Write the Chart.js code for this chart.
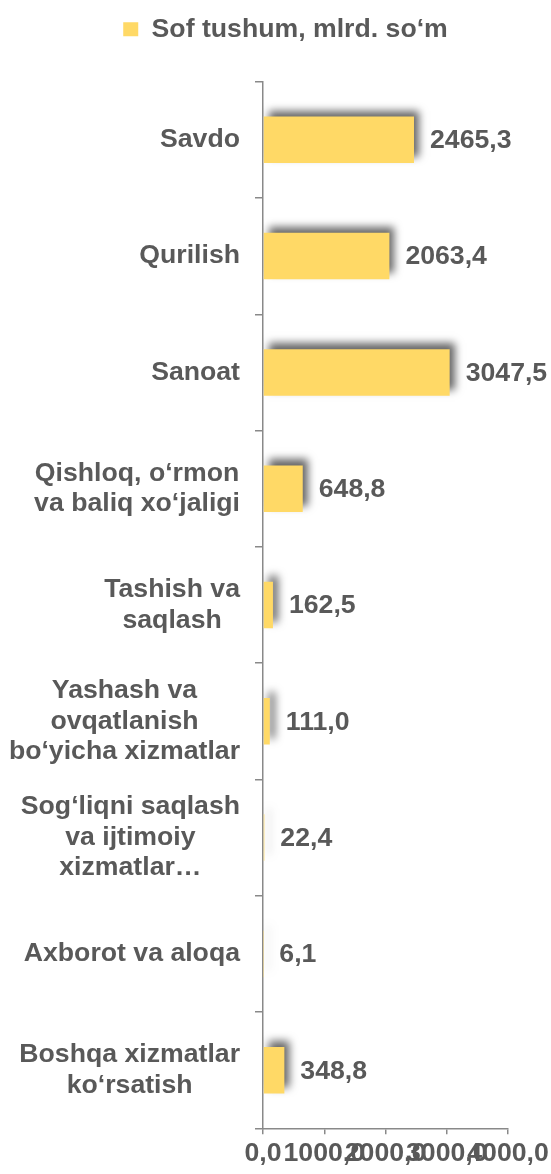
<!DOCTYPE html>
<html>
<head>
<meta charset="utf-8">
<script src="https://cdn.jsdelivr.net/npm/chart.js@4"></script>
<style>
  html, body { margin: 0; padding: 0; background: #fff; }
  #wrap { width: 551px; height: 1174px; }
</style>
</head>
<body>
<div id="wrap"><canvas id="chart"></canvas></div>
<script>
// sectors, top to bottom
const categories = [
  'Savdo',
  'Qurilish',
  'Sanoat',
  ['Qishloq, o‘rmon', 'va baliq xo‘jaligi'],
  ['Tashish va', 'saqlash'],
  ['Yashash va', 'ovqatlanish', 'bo‘yicha xizmatlar'],
  ['Sog‘liqni saqlash', 'va ijtimoiy', 'xizmatlar…'],
  'Axborot va aloqa',
  ['Boshqa xizmatlar', 'ko‘rsatish']
];
const netRevenue = [2465.3, 2063.4, 3047.5, 648.8, 162.5, 111.0, 22.4, 6.1, 348.8];
const seriesName = 'Sof tushum, mlrd. so‘m';
const xTicks = [0, 1000, 2000, 3000, 4000];

const textColor = '#595959';
const axisColor = '#898989';
const FONT = '"Liberation Sans", Arial, sans-serif';
const FSIZE = 26.67;

const fmt = v => Number(v).toFixed(1).replace('.', ',');

// legend: extra room below it, nudged right a bit
const legendTweak = {
  id: 'legendTweak',
  beforeInit(chart) {
    const lg = chart.legend;
    const fit = lg.fit;
    lg.fit = function () {
      fit.call(this);
      this.height += 29;
    };
    const draw = lg.draw;
    lg.draw = function () {
      const ctx = this.ctx;
      ctx.save();
      ctx.translate(10, 0);
      draw.apply(this, arguments);
      ctx.restore();
    };
  }
};

// soft shadow under bars + value labels
const barDecor = {
  id: 'barDecor',
  beforeDatasetsDraw(chart) {
    const ctx = chart.ctx;
    ctx.save();
    ctx.shadowColor = 'rgba(0,0,0,0.6)';
    ctx.shadowBlur = 8;
    ctx.shadowOffsetX = 5;
    ctx.shadowOffsetY = -6;
  },
  afterDatasetsDraw(chart) {
    const ctx = chart.ctx;
    ctx.restore();
    const meta = chart.getDatasetMeta(0);
    ctx.save();
    ctx.font = 'bold ' + FSIZE + 'px ' + FONT;
    ctx.fillStyle = textColor;
    ctx.textAlign = 'left';
    ctx.textBaseline = 'middle';
    meta.data.forEach((bar, i) => {
      ctx.fillText(fmt(netRevenue[i]), bar.x + 16, bar.y + 1);
    });
    ctx.restore();
  },
  // category labels: block right-aligned, lines centred inside block
  afterDraw(chart) {
    const ctx = chart.ctx;
    const y = chart.scales.y;
    ctx.save();
    ctx.font = 'bold ' + FSIZE + 'px ' + FONT;
    ctx.fillStyle = textColor;
    ctx.textAlign = 'center';
    ctx.textBaseline = 'middle';
    const right = y.right - 23;
    const lh = 30.5;
    categories.forEach((cat, i) => {
      const lines = Array.isArray(cat) ? cat : [cat];
      const w = Math.max(...lines.map(l => ctx.measureText(l).width));
      const cx = right - w / 2;
      const cy = y.getPixelForValue(i);
      const top = cy - (lines.length - 1) * lh / 2;
      lines.forEach((l, k) => ctx.fillText(l, cx, top + k * lh));
    });
    ctx.restore();
  }
};

new Chart(document.getElementById('chart'), {
  type: 'bar',
  data: {
    labels: categories,
    datasets: [{
      label: seriesName,
      data: netRevenue,
      backgroundColor: '#FFD966',
      borderWidth: 0,
      barPercentage: 0.4,
      categoryPercentage: 1
    }]
  },
  options: {
    indexAxis: 'y',
    responsive: true,
    maintainAspectRatio: false,
    animation: false,
    layout: { padding: { top: 2, right: 0, bottom: 1, left: 0 } },
    plugins: {
      legend: {
        position: 'top',
        labels: {
          color: textColor,
          font: { family: FONT, size: FSIZE, weight: 'bold' },
          boxWidth: 15,
          boxHeight: 14,
          padding: 14
        }
      },
      tooltip: { enabled: false }
    },
    scales: {
      y: {
        grid: { drawOnChartArea: false, drawTicks: true, tickLength: 8, color: axisColor, lineWidth: 1.5 },
        border: { display: true, color: axisColor, width: 1.5 },
        ticks: { display: false },
        afterFit(scale) { scale.width = 263; }
      },
      x: {
        min: 0,
        max: 4000,
        afterBuildTicks(scale) { scale.ticks = xTicks.map(v => ({ value: v })); },
        afterFit(scale) { scale.paddingRight = 43; },
        grid: { drawOnChartArea: false, drawTicks: true, tickLength: 6, color: axisColor, lineWidth: 1.5 },
        border: { display: true, color: axisColor, width: 1.5 },
        ticks: {
          autoSkip: false,
          maxRotation: 0,
          minRotation: 0,
          padding: 6,
          color: textColor,
          font: { family: FONT, size: FSIZE, weight: 'bold', lineHeight: 1 },
          callback: v => fmt(v)
        }
      }
    }
  },
  plugins: [legendTweak, barDecor]
});
</script>
</body>
</html>
